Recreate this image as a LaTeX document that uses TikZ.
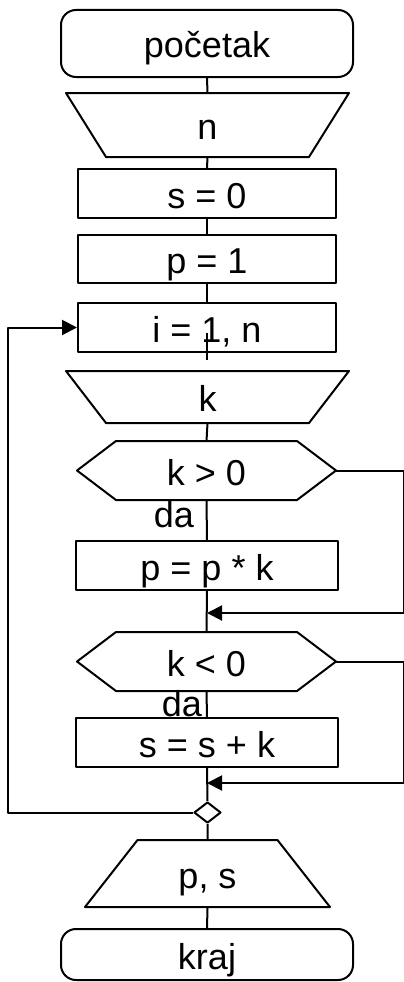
\documentclass[tikz,border=0pt]{standalone}
\usepackage{fontspec}
\setmainfont{Liberation Sans}
\usetikzlibrary{shapes.geometric,arrows.meta}
\begin{document}
\begin{tikzpicture}[x=1pt,y=-1pt,line width=2pt,line join=round,
		every node/.style={font=\fontsize{36}{40}\selectfont,text height=30pt,text depth=1pt,inner sep=0pt},
		term/.style={draw,rounded corners=15pt,minimum width=292pt},
		proc/.style={draw,fill=white,minimum width=258pt,minimum height=49pt},
		inp/.style={minimum width=281pt},
		outp/.style={draw,fill=white,trapezium,trapezium left angle=54.9,trapezium right angle=54.9,trapezium stretches=true,minimum width=245pt,minimum height=67pt},
		cond/.style={minimum width=257pt,minimum height=57pt},
		arr/.style={-{Triangle[length=15pt,width=15pt]}}]
		\useasboundingbox (0,0) rectangle (404,982);
		\node[term,minimum height=67pt] (start) at (207,43.5) {početak};
		\node[inp,minimum height=62pt] (n) at (207.5,125) {n};
		\node[proc] (s0) at (207,193.5) {s = 0};
		\node[proc,minimum height=48pt] (p1) at (207,259) {p = 1};
		\node[proc] (loop) at (207,327.5) {i = 1, n};
		\node[inp,minimum height=50pt] (k) at (207.5,397) {k};
		\node[cond] (c1) at (206.5,470.5) {k > 0};
		\node[proc,minimum width=262pt] (pk) at (207,565.5) {p = p * k};
		\node[cond] (c2) at (206.5,661.5) {k < 0};
		\node[proc,minimum width=262pt] (sk) at (207,742.5) {s = s + k};
		\node[draw,fill=white,diamond,minimum width=27pt,minimum height=21pt,text height=0pt,text depth=0pt] (j) at (207.5,812.5) {};
		\node[outp] (out) at (207.5,873.5) {p, s};
		\node[term,minimum height=51pt] (end) at (207,954.5) {kraj};
		\node[anchor=base] (da1) at (174,527) {da};
		\node[anchor=base] (da2) at (182,716) {da};
		\draw (n.north west) -- (n.north east) -- ([xshift=-40pt]n.south east) -- ([xshift=40pt]n.south west) -- cycle;
		\draw (k.north west) -- (k.north east) -- ([xshift=-40pt]k.south east) -- ([xshift=40pt]k.south west) -- cycle;
		\draw (c1.west) -- ([xshift=39pt]c1.north west) -- ([xshift=-39pt]c1.north east) -- (c1.east) -- ([xshift=-39pt]c1.south east) -- ([xshift=39pt]c1.south west) -- cycle;
		\draw (c2.west) -- ([xshift=39pt]c2.north west) -- ([xshift=-39pt]c2.north east) -- (c2.east) -- ([xshift=-39pt]c2.south east) -- ([xshift=39pt]c2.south west) -- cycle;
		\coordinate (lend) at (207,360);
		\coordinate (r1) at (403.5,613);
		\coordinate (m1) at (207,613);
		\coordinate (r2) at (403.5,783);
		\coordinate (m2) at (207,783);
		\coordinate (lft) at (8,812.5);
		\draw (start.south) -- (n.north);
		\draw (n.south) -- (s0.north);
		\draw (s0.south) -- (p1.north);
		\draw (p1.south) -- (loop.north);
		\draw ([yshift=-5pt]loop.center) -- (lend);
		\draw (k.south) -- (c1.north);
		\draw (c1.south) -- (pk.north);
		\draw (pk.south) -- (c2.north);
		\draw (c2.south) -- (sk.north);
		\draw (sk.south) -- (j.north);
		\draw (j.south) -- (out.north);
		\draw (out.south) -- (end.north);
		\draw[arr] (c1.east) -| (r1) -- (m1);
		\draw[arr] (c2.east) -| (r2) -- (m2);
		\draw[arr] (j.west) -- (lft) |- (loop.west);
		\end{tikzpicture}
\end{document}
